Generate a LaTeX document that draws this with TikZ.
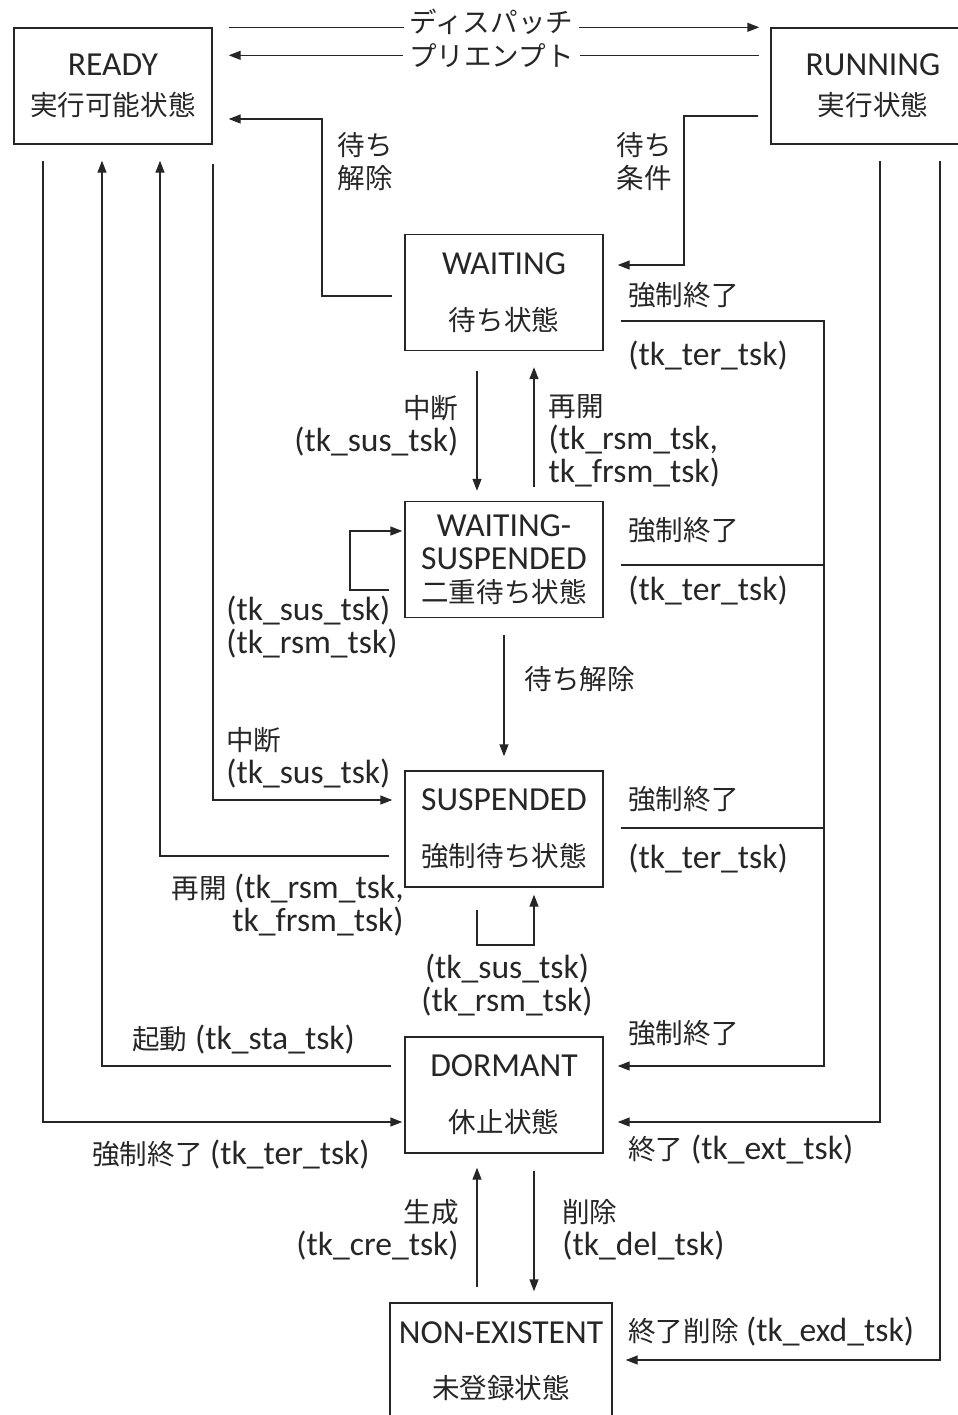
\documentclass[tikz,border=0pt]{standalone}
\usepackage{fontspec}
\setmainfont{Carlito}
\newfontfamily\jp[Scale=0.82]{Noto Sans CJK JP}
\usetikzlibrary{arrows.meta}

\begin{document}
\begin{tikzpicture}[
    x=0.5pt, y=-0.5pt,
    font=\fontsize{16.8}{16.5}\selectfont,
    color=black!85,
    state/.style={draw, line width=0.7pt, minimum width=99pt,
        minimum height=58pt, inner sep=1pt, align=center},
    edge/.style={line width=0.7pt},
    trans/.style={edge, -{Triangle[length=6pt, width=4.5pt]}},
    lbl/.style={inner sep=0pt}
]
    \clip (0,0) rectangle (958,1415);
    \node[state] (ready) at (113,86) {READY\\[3.5pt]{\jp 実行可能状態}};
    \node[state, minimum width=102pt] (running) at (873,86) {RUNNING\\[3.5pt]{\jp 実行状態}};
    \node[state] (waiting) at (504,292.5) {WAITING\\[11.5pt]{\jp 待ち状態}};
    \node[state] (wsusp) at (504,559.5) {WAITING-\\SUSPENDED\\{\jp 二重待ち状態}};
    \node[state] (susp) at (504,829) {SUSPENDED\\[11.5pt]{\jp 強制待ち状態}};
    \node[state] (dormant) at (504,1095) {DORMANT\\[11.5pt]{\jp 休止状態}};
    \node[state, minimum width=111pt] (nonex) at (501,1361) {NON-EXISTENT\\[11pt]{\jp 未登録状態}};

    % dispatch / preempt
    \draw[trans, shorten <=8pt, shorten >=5.5pt] (ready.north east)
        -- node[lbl, fill=white, inner xsep=3pt, yshift=2.5pt] (dsp) {\jp ディスパッチ} (running.north west);
    \draw[trans, shorten <=5.5pt, shorten >=8pt] ([yshift=-14pt]running.north west)
        -- node[lbl, fill=white, inner xsep=3pt] (pre) {\jp プリエンプト} ([yshift=-14pt]ready.north east);

    % waiting
    \coordinate (wr1) at (322,296);
    \coordinate (wr2) at (322,119);
    \draw[trans, shorten <=6pt, shorten >=8pt] (waiting.west |- wr1) -- (wr1) -- (wr2) -- (ready.east |- wr2);
    \node[lbl, align=center] (wrl) at (365,162) {{\jp 待ち}\\{\jp 解除}};
    \coordinate (wc1) at (684,116);
    \coordinate (wc2) at (684,265);
    \draw[trans, shorten <=6pt, shorten >=7pt] (running.west |- wc1) -- (wc1) -- (wc2) -- (waiting.east |- wc2);
    \node[lbl, align=center] (wcl) at (644,162) {{\jp 待ち}\\{\jp 条件}};

    % lines below READY
    \coordinate (ter) at (43,1122);
    \draw[trans, shorten <=8pt, shorten >=1pt] (ready.south -| ter) -- (ter) -- (dormant.west |- ter);
    \node[lbl, anchor=west] (terl) at (92,1155) {{\jp 強制終了} (tk\_ter\_tsk)};
    \coordinate (sta) at (102,1066);
    \draw[trans, shorten <=6.5pt, shorten >=8pt] (dormant.west |- sta) -- (sta) -- (ready.south -| sta);
    \node[lbl, anchor=west] (stal) at (132,1040) {{\jp 起動} (tk\_sta\_tsk)};
    \coordinate (rsm) at (160,856);
    \draw[trans, shorten <=7.5pt, shorten >=8pt] (susp.west |- rsm) -- (rsm) -- (ready.south -| rsm);
    \node[lbl, anchor=east, align=right] (rsml) at (404,905) {{\jp 再開} (tk\_rsm\_tsk,\\tk\_frsm\_tsk)};
    \coordinate (sus) at (213,800);
    \draw[trans, shorten <=9.5pt, shorten >=6pt] (ready.south -| sus) -- (sus) -- (susp.west |- sus);
    \node[lbl, anchor=west, align=left] (susl) at (226,758) {{\jp 中断}\\(tk\_sus\_tsk)};

    % waiting <-> waiting-suspended
    \draw[trans, shorten <=10pt, shorten >=5pt] ([xshift=-13.5pt]waiting.south)
        -- node[lbl, left=9pt, align=right] (susdn) {{\jp 中断}\\(tk\_sus\_tsk)} ([xshift=-13.5pt]wsusp.north);
    \draw[trans, shorten <=7pt, shorten >=8pt] ([xshift=15pt]wsusp.north)
        -- node[lbl, pos=0.4, right=7pt, align=left] (rsmup) {{\jp 再開}\\(tk\_rsm\_tsk,\\tk\_frsm\_tsk)} ([xshift=15pt]waiting.south);
    \coordinate (lp1) at (350,590);
    \coordinate (lp2) at (350,531);
    \draw[trans, shorten <=7.5pt, shorten >=1pt] (wsusp.west |- lp1) -- (lp1) -- (lp2) -- (wsusp.west |- lp2);
    \node[lbl, anchor=west, align=left] (lpl) at (226,627.5) {(tk\_sus\_tsk)\\(tk\_rsm\_tsk)};
    \draw[trans, shorten <=8.5pt, shorten >=7pt] (wsusp.south)
        -- node[lbl, pos=0.4, right=10pt] (wrl2) {\jp 待ち解除} (susp.north);

    % suspended loop
    \coordinate (sl1) at (477,945);
    \coordinate (sl2) at (534,945);
    \draw[trans, shorten <=11pt, shorten >=3.5pt] (susp.south -| sl1) -- (sl1) -- (sl2) -- (susp.south -| sl2);
    \node[lbl, align=center] (sll) at (507,985) {(tk\_sus\_tsk)\\(tk\_rsm\_tsk)};

    % forced termination
    \coordinate (ft1) at (824,321);
    \coordinate (ft2) at (824,565);
    \coordinate (ft3) at (824,828);
    \coordinate (ft4) at (824,1066);
    \draw[trans, shorten <=8.5pt, shorten >=7pt] (waiting.east |- ft1) -- (ft1) -- (ft4) -- (dormant.east |- ft4);
    \draw[edge, shorten <=8.5pt] (wsusp.east |- ft2) -- (ft2);
    \draw[edge, shorten <=8.5pt] (susp.east |- ft3) -- (ft3);
    \node[lbl, anchor=west] (ft1a) at (628,295) {\jp 強制終了};
    \node[lbl, anchor=west] (ft1b) at (628,356) {(tk\_ter\_tsk)};
    \node[lbl, anchor=west] (ft2a) at (628,530) {\jp 強制終了};
    \node[lbl, anchor=west] (ft2b) at (628,591) {(tk\_ter\_tsk)};
    \node[lbl, anchor=west] (ft3a) at (628,799) {\jp 強制終了};
    \node[lbl, anchor=west] (ft3b) at (628,859) {(tk\_ter\_tsk)};
    \node[lbl, anchor=west] (ft4a) at (628,1033) {\jp 強制終了};

    % exit
    \coordinate (ext) at (880,1122);
    \draw[trans, shorten <=8pt, shorten >=7pt] (running.south -| ext) -- (ext) -- (dormant.east |- ext);
    \node[lbl, anchor=west] (extl) at (628,1150) {{\jp 終了} (tk\_ext\_tsk)};
    \coordinate (exd) at (940,1360);
    \draw[trans, shorten <=8pt, shorten >=6.5pt] (running.south -| exd) -- (exd) -- (nonex.east |- exd);
    \node[lbl, anchor=west] (exdl) at (628,1332) {{\jp 終了削除} (tk\_exd\_tsk)};

    % create / delete
    \coordinate (cre) at (477,1228);
    \coordinate (del) at (534,1228);
    \draw[trans, shorten <=7.5pt, shorten >=7pt] (nonex.north -| cre) -- (dormant.south -| cre);
    \node[lbl, anchor=east, align=right] (crel) at (459,1230) {{\jp 生成}\\(tk\_cre\_tsk)};
    \draw[trans, shorten <=8.5pt, shorten >=5.5pt] (dormant.south -| del) -- (nonex.north -| del);
    \node[lbl, anchor=west, align=left] (dell) at (562,1230) {{\jp 削除}\\(tk\_del\_tsk)};
\end{tikzpicture}
\end{document}
